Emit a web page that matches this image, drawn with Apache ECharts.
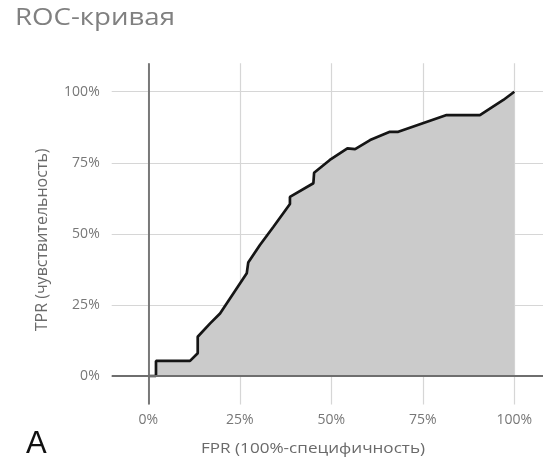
<!DOCTYPE html>
<html>
<head>
<meta charset="utf-8">
<script src="https://cdn.jsdelivr.net/npm/echarts@6/dist/echarts.min.js"></script>
<style>
html,body{margin:0;padding:0;background:#fff;overflow:hidden;}
#chart{width:556px;height:462px;}
</style>
</head>
<body>
<div id="chart"></div>
<script>
const titleText = 'ROC-кривая';
const xName = 'FPR (100%-специфичность)';
const yName = 'TPR (чувствительность)';
const panelLetter = 'A';
const tickValues = [0, 25, 50, 75, 100];
const fpr = [0, 2.1, 2.1, 11.4, 13.5, 13.5, 16.9, 19.6, 26.9, 27.3, 30.5, 34.2, 38.7, 38.7, 45.1, 45.3, 49.6, 54.4, 56.5, 60.6, 66.0, 68.3, 81.5, 90.6, 97.0, 100];
const tpr = [0, 0, 5.3, 5.3, 8.0, 13.8, 18.5, 22.0, 36.1, 39.9, 46.1, 52.5, 60.5, 63.0, 67.8, 71.5, 76.0, 80.1, 79.8, 83.0, 85.9, 85.9, 91.8, 91.8, 97.1, 100];

const chart = echarts.init(document.getElementById('chart'));
const font = '"Open Sans", sans-serif';
const points = fpr.map((x, i) => [x, tpr[i]]);

chart.setOption({
  animation: false,
  backgroundColor: '#fff',
  graphic: [{
    type: 'text', x: 15, y: 18, scaleX: 1.15, originX: 0, originY: 0,
    style: {text: titleText, font: '24px "Open Sans", sans-serif', fill: '#808080', verticalAlign: 'middle', align: 'left'}
  }, {
    type: 'text', x: 313, y: 449, scaleX: 1.14, originX: 0, originY: 0,
    style: {text: xName, font: '15px "Open Sans", sans-serif', fill: '#6a6a6a', verticalAlign: 'middle', align: 'center'}
  }, {
    type: 'text', left: 26, top: 429,
    style: {text: panelLetter, font: '31px "Liberation Sans", Arial, sans-serif', fill: '#111'}
  }],
  grid: {left: 111.7, top: 63.3, width: 439.2, height: 341.1, containLabel: false},
  xAxis: {
    type: 'value', min: -10, max: 110,
    axisLine: {show: false},
    axisTick: {show: false, customValues: tickValues},
    axisLabel: {customValues: tickValues, formatter: v => v + '%', fontFamily: font, fontSize: 14, color: '#777', margin: 9},
    splitLine: {show: true, lineStyle: {color: '#d6d6d6', width: 1.2}}
  },
  yAxis: {
    type: 'value', min: -10, max: 110,
    name: yName, nameLocation: 'middle', nameGap: 61,
    nameTextStyle: {fontFamily: font, fontSize: 16, color: '#6a6a6a', padding: [0, 12, 0, 0]},
    axisLine: {show: false},
    axisTick: {show: false, customValues: tickValues},
    axisLabel: {customValues: tickValues, formatter: v => v + '%', fontFamily: font, fontSize: 14, color: '#777', margin: 12},
    splitLine: {show: true, lineStyle: {color: '#d6d6d6', width: 1.2}}
  },
  series: [{
    type: 'line',
    data: points,
    symbol: 'none',
    lineStyle: {color: '#151515', width: 2.7},
    areaStyle: {color: '#cbcbcb', opacity: 1, origin: 0},
    markLine: {
      silent: true, symbol: 'none', label: {show: false},
      lineStyle: {color: '#6e6e6e', width: 1.8, type: 'solid'},
      data: [{xAxis: 0}, {yAxis: 0}]
    },
    z: 3
  }]
});
</script>
</body>
</html>
